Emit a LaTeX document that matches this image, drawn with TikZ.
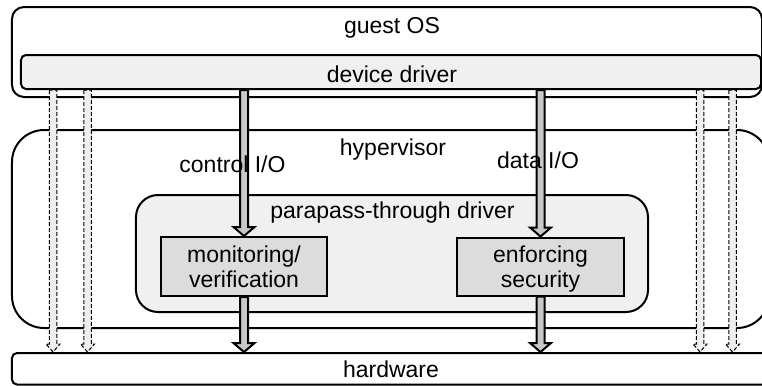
\documentclass[tikz,border=0pt]{standalone}
\usepackage{fontspec}
\setmainfont{Liberation Sans}
\usetikzlibrary{calc}
\definecolor{lightfill}{HTML}{F0F0F0}
\definecolor{boxfill}{HTML}{DCDCDC}
\definecolor{arrfill}{HTML}{C8C8C8}
\definecolor{dashfill}{HTML}{EEEEEE}
\newcommand\hollowarrow[6]{%
  \draw[#1] let \p1=(#2), \p2=(#3) in
    ({\x1-#4},\y1) -- ({\x1-#4},{\y2+#6}) -- ({\x1-#5},{\y2+#6}) -- (\x1,\y2)
    -- ({\x1+#5},{\y2+#6}) -- ({\x1+#4},{\y2+#6}) -- ({\x1+#4},\y1) -- cycle;}
\begin{document}
\begin{tikzpicture}[x=1bp,y=-1bp,
  every node/.style={font=\fontsize{23bp}{25bp}\selectfont, inner sep=0pt},
  frame/.style={draw, line width=2bp},
  lbl/.style={anchor=base},
  thickarr/.style={draw, line width=2bp, fill=arrfill},
  dasharr/.style={draw, line width=1bp, fill=dashfill, dash pattern=on 4bp off 2bp}]
\useasboundingbox (0,0) rectangle (762,385);
\clip (0,0) rectangle (762,385);
% boxes
\node[frame, rounded corners=12bp, fill=white, minimum width=750bp, minimum height=90bp] (guest) at (387,52) {};
\node[frame, rounded corners=5bp, fill=lightfill, minimum width=740bp, minimum height=34bp] (dd) at (391,72) {};
\node[frame, rounded corners=32bp, fill=white, minimum width=757bp, minimum height=198bp] (hyp) at (390.5,229) {};
\node[frame, rounded corners=22bp, fill=lightfill, minimum width=512bp, minimum height=117bp] (para) at (392,253.5) {};
\node[frame, fill=boxfill, minimum width=166bp, minimum height=59bp] (mon) at (244,266.5) {};
\node[frame, fill=boxfill, minimum width=167bp, minimum height=58bp] (enf) at (540.5,266.5) {};
\node[frame, rounded corners=5bp, fill=white, minimum width=763bp, minimum height=31.5bp] (hw) at (393.5,368.75) {};
% labels
\node[lbl] (tguest) at (392,33) {guest OS};
\node[lbl] (tdd) at (392,82) {device driver};
\node[lbl] (thyp) at (393,155) {hypervisor};
\node[lbl] (tpara) at (392.5,218) {parapass-through driver};
\node[lbl] (tmon1) at (244,262.5) {monitoring/};
\node[lbl] (tmon2) at (244,287.5) {verification};
\node[lbl] (tenf1) at (540.5,262) {enforcing};
\node[lbl] (tenf2) at (540.5,287) {security};
\node[lbl] (thw) at (391,377) {hardware};
% pass-through paths
\coordinate (v1) at (53,0);
\coordinate (v2) at (87.5,0);
\coordinate (v3) at (700,0);
\coordinate (v4) at (732.5,0);
\foreach \v in {v1,v2,v3,v4}{
  \hollowarrow{dasharr}{\v |- dd.south}{\v |- hw.north}{3.75bp}{7bp}{8bp}
}
% main arrows
\hollowarrow{thickarr}{dd.south -| mon.north}{mon.north}{4bp}{10.5bp}{9bp}
\hollowarrow{thickarr}{mon.south}{mon.south |- hw.north}{4bp}{10.5bp}{9bp}
\hollowarrow{thickarr}{dd.south -| enf.north}{enf.north}{4bp}{10.5bp}{9bp}
\hollowarrow{thickarr}{enf.south}{enf.south |- hw.north}{4bp}{10.5bp}{9bp}
% arrow labels (printed over the arrows)
\node[lbl] (tctl) at (232.5,172) {control I/O};
\node[lbl] (tdata) at (538,168) {data I/O};
\end{tikzpicture}
\end{document}
